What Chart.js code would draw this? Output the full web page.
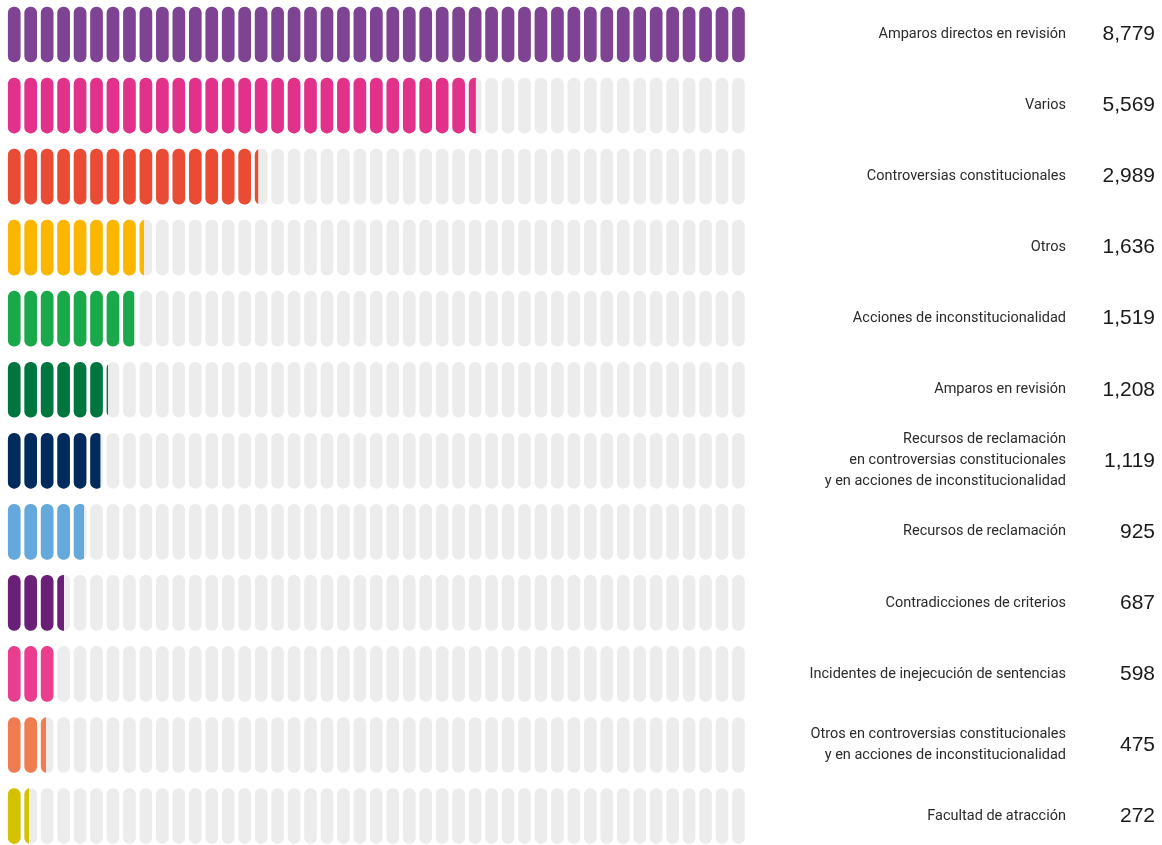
<!DOCTYPE html>
<html>
<head>
<meta charset="utf-8">
<script src="https://cdn.jsdelivr.net/npm/chart.js@4.4.1/dist/chart.umd.min.js"></script>
<style>
  html, body { margin: 0; padding: 0; background: #ffffff; }
  #wrap { width: 1162px; height: 845px; position: relative; }
</style>
</head>
<body>
<div id="wrap"><canvas id="pillChart"></canvas></div>
<script>
const categories = [
  "Amparos directos en revisión",
  "Varios",
  "Controversias constitucionales",
  "Otros",
  "Acciones de inconstitucionalidad",
  "Amparos en revisión",
  ["Recursos de reclamación", "en controversias constitucionales", "y en acciones de inconstitucionalidad"],
  "Recursos de reclamación",
  "Contradicciones de criterios",
  "Incidentes de inejecución de sentencias",
  ["Otros en controversias constitucionales", "y en acciones de inconstitucionalidad"],
  "Facultad de atracción"
];
const values = [8779, 5569, 2989, 1636, 1519, 1208, 1119, 925, 687, 598, 475, 272];
const barColors = [
  "#7f4394", "#e2318a", "#e94b35", "#fbb600", "#1aa94a", "#00763f",
  "#002b5c", "#64a8dc", "#6a1f78", "#ea3d8d", "#f07d52", "#d4c200"
];
const emptyColor = "#ececec";
const slotCount = 45; // pills per row, the longest row fills all of them

// each pill stands for maxValue / slotCount cases
const maxValue = Math.max(...values);
const unit = maxValue / slotCount;
const pillHalf = 0.387; // half pill height, in row units
const slotPx = 16.46;
const chartWidth = 1162 - 6;

function pillsFor(row, count) {
  const out = [];
  for (let i = 0; i < count; i++) {
    out.push({ x: (i + 0.5) * unit, y: [row - pillHalf, row + pillHalf] });
  }
  return out;
}

const datasets = [];
values.forEach((v, r) => {
  datasets.push({
    label: Array.isArray(categories[r]) ? categories[r].join(" ") : categories[r],
    data: pillsFor(r, Math.ceil(v / unit)),
    backgroundColor: barColors[r],
    clipValue: v,
    order: 0,
  });
});
// grey background pills, drawn underneath
datasets.push({
  label: "empty",
  data: categories.flatMap((_, r) => pillsFor(r, slotCount)),
  backgroundColor: emptyColor,
  order: 1,
});

// cut each coloured row at its value so the last pill is partly filled
const clipToValue = {
  id: "clipToValue",
  beforeDatasetDraw(chart, args) {
    const ds = chart.data.datasets[args.index];
    if (ds.clipValue === undefined) return;
    const area = chart.chartArea;
    const xEnd = chart.scales.x.getPixelForValue(ds.clipValue);
    const ctx = chart.ctx;
    ctx.save();
    ctx.beginPath();
    ctx.rect(area.left, area.top, xEnd - area.left, area.bottom - area.top);
    ctx.clip();
  },
  afterDatasetDraw(chart, args) {
    if (chart.data.datasets[args.index].clipValue === undefined) return;
    chart.ctx.restore();
  },
};

const rowTicks = (scale) => {
  scale.ticks = categories.map((_, i) => ({ value: i }));
};
const noPad = (scale) => {
  scale.width = 0;
  scale.paddingTop = 0;
  scale.paddingBottom = 0;
};

const yMin = -34.5 / 71.05;
const yMax = (845 - 34.5) / 71.05;

const ctx = document.getElementById("pillChart").getContext("2d");
new Chart(ctx, {
  type: "bar",
  data: { datasets },
  options: {
    responsive: true,
    maintainAspectRatio: false,
    animation: false,
    events: [],
    layout: { padding: { top: 0, right: 0, bottom: 0, left: 6 } },
    datasets: {
      bar: {
        grouped: false,
        barThickness: 12,
        borderRadius: 6,
        borderSkipped: false,
        borderWidth: 0,
      },
    },
    scales: {
      x: {
        type: "linear",
        offset: false,
        min: 0,
        max: unit * (chartWidth / slotPx),
        display: false,
      },
      y: {
        type: "linear",
        reverse: true,
        min: yMin,
        max: yMax,
        display: false,
      },
      names: {
        axis: "y",
        type: "linear",
        position: "right",
        reverse: true,
        min: yMin,
        max: yMax,
        grid: { display: false, drawTicks: false },
        border: { display: false },
        afterBuildTicks: rowTicks,
        afterFit: noPad,
        ticks: {
          mirror: true,
          crossAlign: "near",
          padding: -96,
          autoSkip: false,
          color: "#2b2b2b",
          font: { family: "Roboto, 'DejaVu Sans Condensed', sans-serif", size: 14.5, weight: 400, lineHeight: 1.45 },
          callback: (v) => categories[v],
        },
      },
      nums: {
        axis: "y",
        type: "linear",
        position: "right",
        reverse: true,
        min: yMin,
        max: yMax,
        grid: { display: false, drawTicks: false },
        border: { display: false },
        afterBuildTicks: rowTicks,
        afterFit: noPad,
        ticks: {
          mirror: true,
          crossAlign: "near",
          padding: -7,
          autoSkip: false,
          color: "#1a1a1a",
          font: { family: "'Liberation Sans', Arial, sans-serif", size: 21 },
          callback: (v) => values[v].toLocaleString("en-US"),
        },
      },
    },
    plugins: {
      legend: { display: false },
      tooltip: { enabled: false },
    },
  },
  plugins: [clipToValue],
});
</script>
</body>
</html>
